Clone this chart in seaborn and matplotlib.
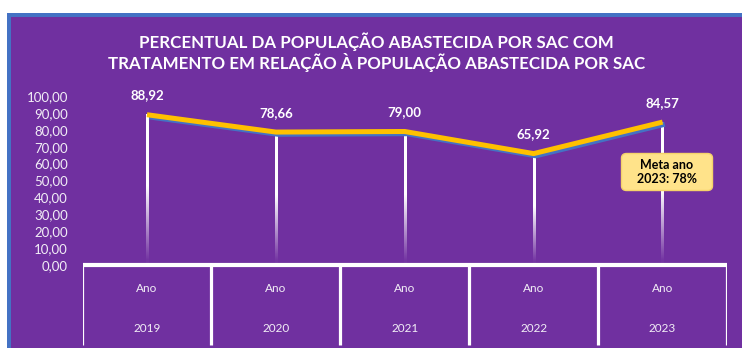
import numpy as np
import pandas as pd
import seaborn as sns
import matplotlib
matplotlib.use("Agg")
import matplotlib.pyplot as plt
import matplotlib.patheffects as pe
from matplotlib.patches import Rectangle, FancyBboxPatch

# ---- data ----
years = ["2019", "2020", "2021", "2022", "2023"]
period_label = "Ano"
values = [88.92, 78.66, 79.00, 65.92, 84.57]
y_ticks = [0, 10, 20, 30, 40, 50, 60, 70, 80, 90, 100]
title_lines = ["PERCENTUAL DA POPULAÇÃO ABASTECIDA POR SAC COM",
               "TRATAMENTO EM RELAÇÃO À POPULAÇÃO ABASTECIDA POR SAC"]
goal_text = "Meta ano\n2023: 78%"

sns.set_style("white")
plt.rcParams["font.family"] = ["Lato", "DejaVu Sans"]

PURPLE = "#7030A0"
BLUE = "#4472C4"
GOLD = "#FFC000"
TEXT = "#F2EEF6"

W, H = 742, 348
fig = plt.figure(figsize=(W / 100, H / 100), dpi=100, facecolor="white")

# frame: blue border and purple panel
fig.patches.append(Rectangle((7 / W, 0), 1 - 7 / W, (H - 13) / H,
                             transform=fig.transFigure, facecolor=BLUE,
                             edgecolor="none", zorder=-10))
fig.patches.append(Rectangle((11 / W, 0), 1 - 11 / W, (H - 17) / H,
                             transform=fig.transFigure, facecolor=PURPLE,
                             edgecolor="none", zorder=-9))

# axes geometry (pixels): x from 82.5 to 727, value 0 at y=265, 100 at y=96
x_left, x_right = 82.5, 727
px_per_unit = (265 - 96) / 100
px_per_cat = (x_right - x_left) / len(years)
y_bottom = -(H - 265) / px_per_unit
ax = fig.add_axes([x_left / W, 0, (x_right - x_left) / W, (H - 96) / H])
ax.set_facecolor("none")
for s in ax.spines.values():
    s.set_visible(False)
ax.grid(False)

df = pd.DataFrame({"pos": np.arange(len(years)), "valor": values})

# fading drop lines from each point to zero (white, alpha gradient)
half_w = 1.1 / px_per_cat
for x, v in zip(df["pos"], df["valor"]):
    n = 200
    frac = np.linspace(1, 0, n)  # top -> bottom
    alpha = np.clip((frac - 0.02) / 0.5, 0.03, 1.0)
    img = np.ones((n, 1, 4))
    img[:, 0, 3] = alpha
    ax.imshow(img, extent=[x - half_w, x + half_w, 0, v], aspect="auto",
              origin="upper", interpolation="bilinear", zorder=2)

ax.set_xlim(-0.5, len(years) - 0.5)
ax.set_ylim(y_bottom, 100)

# main line with blue shadow
sns.lineplot(data=df, x="pos", y="valor", ax=ax, color=GOLD, linewidth=3.6,
             solid_capstyle="butt", zorder=4, legend=False,
             path_effects=[pe.SimpleLineShadow(offset=(1.6, -1.6),
                                               shadow_color=BLUE, alpha=1,
                                               rho=1),
                           pe.Normal()])
ax.set_xlabel("")
ax.set_ylabel("")
ax.set_xlim(-0.5, len(years) - 0.5)
ax.set_ylim(y_bottom, 100)

# value labels
for x, v in zip(df["pos"], df["valor"]):
    ax.annotate(f"{v:.2f}".replace(".", ","), (x, v), xytext=(0, 14),
                textcoords="offset points", ha="center", va="center",
                color="white", fontsize=9.5, fontweight="bold", zorder=6)

# y axis ticks
ax.set_yticks(y_ticks)
ax.set_yticklabels([f"{t:.2f}".replace(".", ",") for t in y_ticks])
ax.tick_params(axis="y", length=0, pad=10.5, labelsize=9.5, labelcolor=TEXT)
ax.set_xticks([])

# category table under the plot
table_bottom = -(345 - 265) / px_per_unit
ax.plot([-0.5, len(years) - 0.5], [0, 0], color="white", linewidth=3,
        solid_capstyle="projecting", zorder=5)
for b in np.arange(len(years) + 1) - 0.5:
    ax.plot([b, b], [0.5, table_bottom], color="white", linewidth=2.3,
            solid_capstyle="butt", zorder=5)
ano_y = -(289 - 265) / px_per_unit
yr_y = -(329 - 265) / px_per_unit
for x, yr in zip(df["pos"], years):
    ax.text(x, ano_y, period_label, ha="center", va="center", color=TEXT,
            fontsize=8.5)
    ax.text(x, yr_y, yr, ha="center", va="center", color=TEXT, fontsize=8.5)

# goal callout
gx, gy = 667, 172
box_w, box_h = 91, 37
bx = (gx - box_w / 2 - x_left) / px_per_cat - 0.5
by = (265 - (gy + box_h / 2)) / px_per_unit
bw = box_w / px_per_cat
bh = box_h / px_per_unit
ax.add_patch(FancyBboxPatch((bx, by), bw, bh,
                            boxstyle="round,pad=0,rounding_size=0.04",
                            mutation_aspect=bh / bw * 2.2,
                            facecolor="#FFE38A", edgecolor="#F5D36A",
                            linewidth=1, zorder=7))
ax.text(bx + bw / 2, by + bh / 2, goal_text, ha="center", va="center",
        color="black", fontsize=9, fontweight="bold", linespacing=1.2,
        zorder=8)

# title
fig.text(376 / W, 1 - 42 / H, title_lines[0], ha="center", va="center",
         color="white", fontsize=12.2, fontweight="bold")
fig.text(377 / W, 1 - 63 / H, title_lines[1], ha="center", va="center",
         color="white", fontsize=12.2, fontweight="bold")

fig.savefig("out.png", dpi=100, facecolor="white")
